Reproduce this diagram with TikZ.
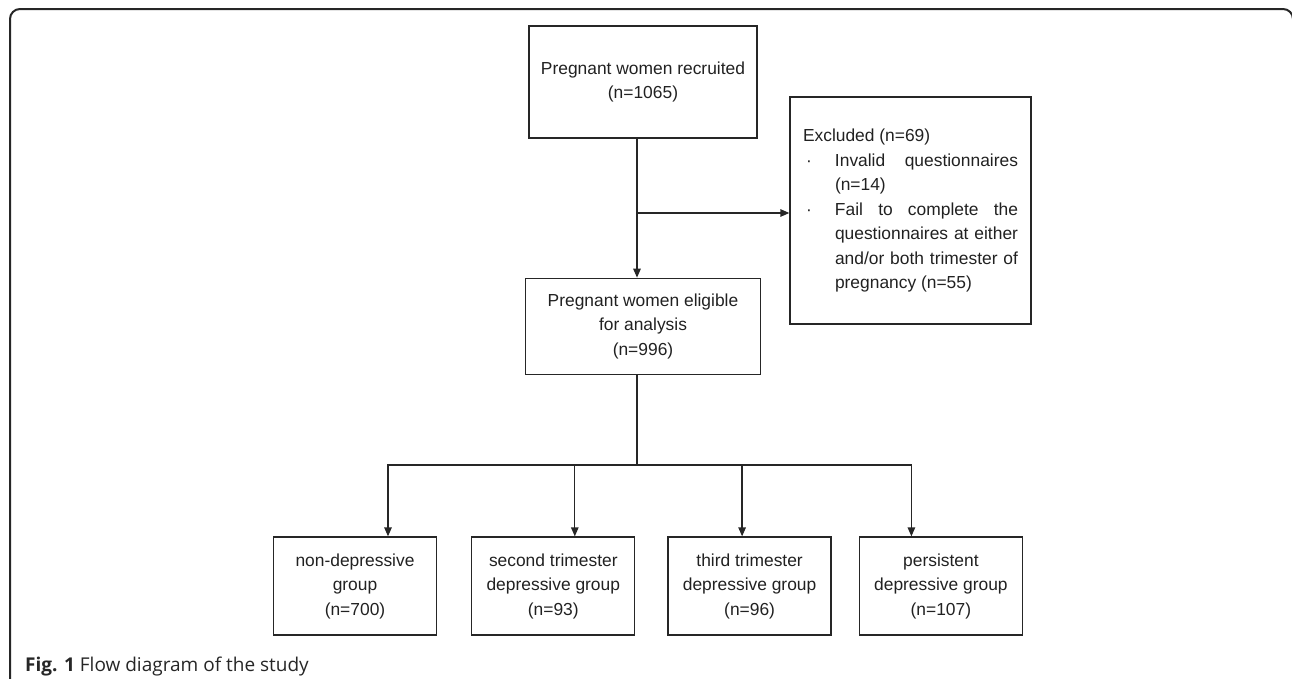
\documentclass[tikz,border=0pt]{standalone}
\usepackage{fontspec}
\setmainfont{Liberation Sans}
\newfontfamily\capfont{Open Sans}
\usepackage{tikz}
\usetikzlibrary{arrows.meta,positioning}
\newcommand\boxfont{\fontsize{17.4}{24.5}\selectfont}
\tikzset{
  box/.style={draw=black!85, line width=1.3pt, align=center, inner sep=0pt, font=\boxfont, text=black!87},
  groupbox/.style={box, minimum width=163pt, minimum height=98pt},
  arrow/.style={-{Triangle[length=9pt,width=7.5pt]}, line width=1.3pt, draw=black!85},
  plainline/.style={line width=1.3pt, draw=black!85},
  frame/.style={draw=black!85, line width=2pt, rounded corners=10pt}
}
\begin{document}
\begin{tikzpicture}[x=1pt, y=-1pt]
\useasboundingbox (0,0) rectangle (1292,678);
\clip (0,0) rectangle (1292,678);
\draw[frame] (10,700) -- (10,9) -- (1293,9) -- (1293,700);
\node[box, minimum width=228pt, minimum height=112pt] (recruited) at (643,82) {Pregnant women recruited\\(n=1065)};
\node[box, minimum width=235pt, minimum height=96pt, below=139pt of recruited] (eligible) {Pregnant women eligible\\for analysis\\(n=996)};
\node[box, minimum width=241pt, minimum height=227pt, text width=215pt, align=justify] (excluded) at (910.5,210.5) {Excluded (n=69)\par
\hangindent=32pt\hangafter=0\noindent\llap{·\hspace{23pt}}Invalid questionnaires\linebreak (n=14)\par
\hangindent=32pt\hangafter=0\noindent\llap{·\hspace{23pt}}Fail to complete the\linebreak questionnaires at either\linebreak and/or both trimester of\linebreak pregnancy (n=55)\par};
\node[groupbox] (nondep) at (355,586) {non-depressive\\group\\(n=700)};
\node[groupbox, right=34pt of nondep] (second) {second trimester\\depressive group\\(n=93)};
\node[groupbox, right=32pt of second] (third) {third trimester\\depressive group\\(n=96)};
\node[groupbox, right=27pt of third] (persist) {persistent\\depressive group\\(n=107)};
\node[anchor=base west, inner sep=0pt, font=\capfont\fontsize{19}{21}\selectfont, text=black!85] (caption) at (25,671) {\textbf{Fig. 1} Flow diagram of the study};
% connectors
\coordinate (branch) at (637,213);
\coordinate (fork) at (637,465);
\draw[arrow] ([xshift=-6pt]recruited.south) -- ([xshift=-6pt]eligible.north);
\draw[arrow] (branch) -- (branch -| excluded.west);
\draw[plainline] ([xshift=-6pt]eligible.south) -- (fork);
\foreach \g/\s in {nondep/33, second/21.5, third/-7.5, persist/-29.5}
  \draw[arrow] (fork) -| ([xshift=\s pt]\g.north);
\end{tikzpicture}
\end{document}
